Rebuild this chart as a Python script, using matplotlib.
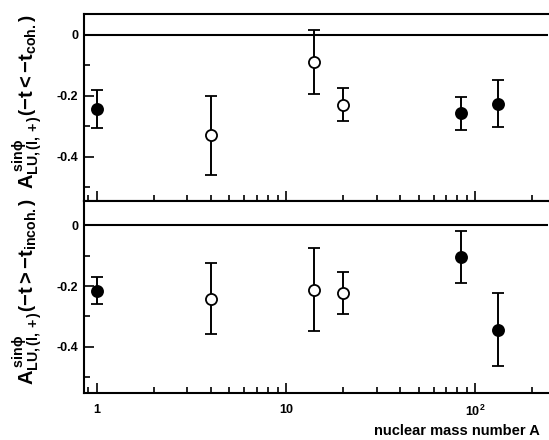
import matplotlib
matplotlib.use("Agg")
import matplotlib.pyplot as plt
from matplotlib.ticker import FixedLocator, NullFormatter, LogLocator, FixedFormatter

plt.rcParams['font.family'] = ['Liberation Sans', 'DejaVu Sans']
plt.rcParams['font.weight'] = 'bold'
plt.rcParams['mathtext.fontset'] = 'custom'
plt.rcParams['mathtext.rm'] = 'Liberation Sans:bold'
plt.rcParams['mathtext.it'] = 'Liberation Sans:bold'
plt.rcParams['mathtext.bf'] = 'Liberation Sans:bold'
plt.rcParams['mathtext.sf'] = 'Liberation Sans:bold'

# data
mass_A = [1, 4, 14, 20, 84, 131]
filled = [True, False, False, False, True, True]

coh_val = [-0.243, -0.33, -0.088, -0.230, -0.258, -0.226]
coh_err = [0.062, 0.13, 0.105, 0.054, 0.053, 0.078]

incoh_val = [-0.215, -0.241, -0.212, -0.223, -0.105, -0.343]
incoh_err = [0.044, 0.116, 0.136, 0.069, 0.086, 0.121]

xtick_vals = [1, 10, 100]
xtick_labels = ['1', '10', r'$10^2$']
ytick_vals = [0, -0.2, -0.4]
ytick_labels = ['0', '-0.2', '-0.4']

fig = plt.figure(figsize=(5.49, 4.40), dpi=100)
L, R = 84 / 549, 0.999
ax1 = fig.add_axes([L, 1 - 201 / 440, R - L, (201 - 14) / 440])
ax2 = fig.add_axes([L, 1 - 393 / 440, R - L, (393 - 201) / 440])

def draw(ax, vals, errs, ylim):
    ax.set_xscale('log')
    ax.set_xlim(0.853, 243)
    ax.set_ylim(*ylim)
    ax.axhline(0, color='black', lw=1.5, zorder=1)
    for x, v, e, f in zip(mass_A, vals, errs, filled):
        ax.errorbar(x, v, yerr=e, fmt='o', ms=8,
                    mfc='black' if f else 'white', mec='black', mew=1.3,
                    ecolor='black', elinewidth=1.4, capsize=4.5, capthick=2.2,
                    zorder=3)
    ax.yaxis.set_major_locator(FixedLocator(ytick_vals))
    ax.yaxis.set_major_formatter(FixedFormatter(ytick_labels))
    ax.yaxis.set_minor_locator(FixedLocator([-0.1, -0.3, -0.5]))
    ax.xaxis.set_major_locator(FixedLocator(xtick_vals))
    ax.xaxis.set_minor_locator(LogLocator(base=10, subs=range(2, 10)))
    ax.xaxis.set_minor_formatter(NullFormatter())
    ax.tick_params(which='both', direction='in', top=False, right=False, width=1.2)
    ax.tick_params(which='major', length=7)
    ax.tick_params(which='minor', length=4)
    ax.tick_params(axis='y', labelsize=9, pad=4)
    ax.tick_params(axis='x', labelsize=9, pad=8)
    for s in ['left', 'top', 'bottom']:
        ax.spines[s].set_linewidth(1.5)
    ax.spines['right'].set_visible(False)

draw(ax1, coh_val, coh_err, (-0.546, 0.069))
draw(ax2, incoh_val, incoh_err, (-0.552, 0.080))
ax1.xaxis.set_major_formatter(NullFormatter())
ax2.xaxis.set_major_formatter(FixedFormatter(xtick_labels))

ax1.set_ylabel(r'$A^{\,sin\phi}_{LU,(l,+)}\left(-t < -t_{coh.}\right)$', fontsize=14.5)
ax2.set_ylabel(r'$A^{\,sin\phi}_{LU,(l,+)}\left(-t > -t_{incoh.}\right)$', fontsize=14.5)
ax1.yaxis.set_label_coords(-0.085, 0.53)
ax2.yaxis.set_label_coords(-0.085, 0.53)

fig.text(540 / 549, 1 - 431 / 440, 'nuclear mass number A', ha='right', va='center',
         fontsize=10.5, fontweight='bold')

fig.savefig('out.png', dpi=100)
